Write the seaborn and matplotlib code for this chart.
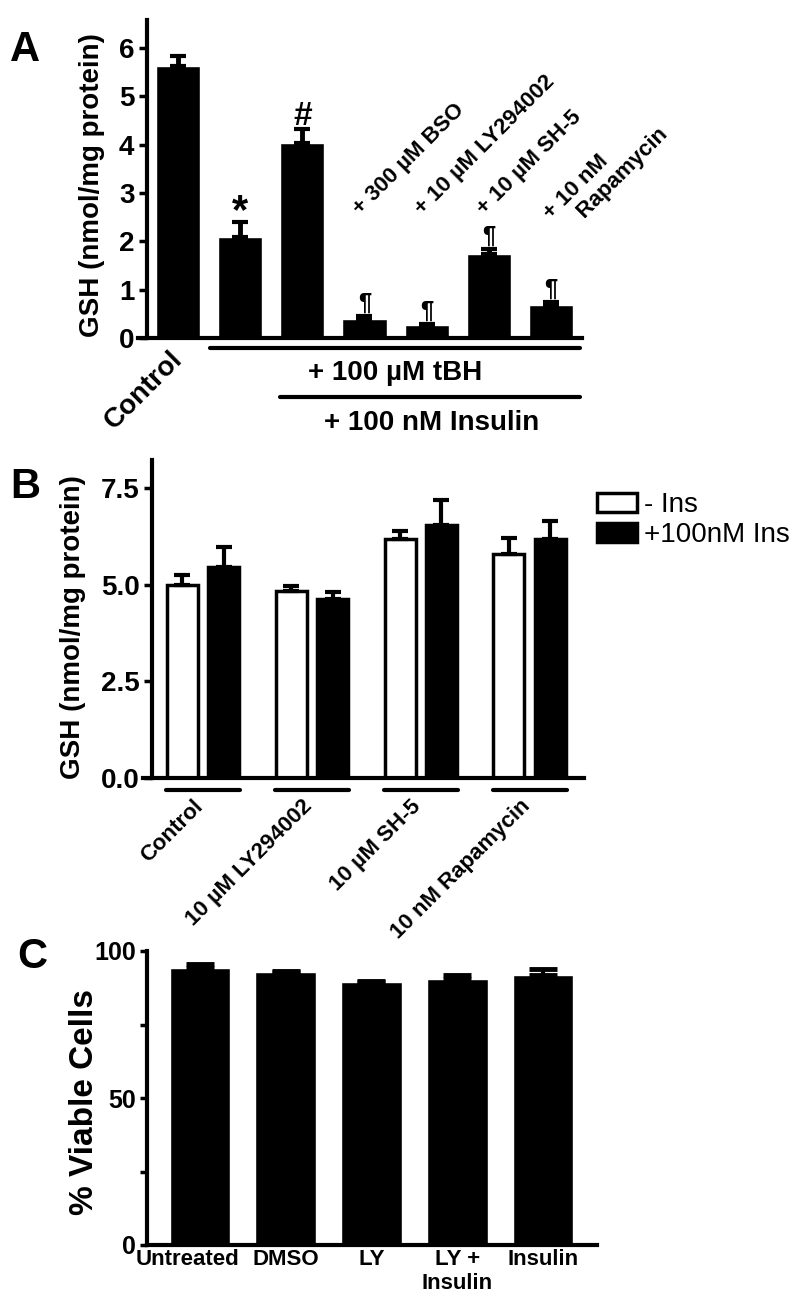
import numpy as np
import pandas as pd
import matplotlib
matplotlib.use('Agg')
import matplotlib.pyplot as plt
import matplotlib.transforms as mtrans
import seaborn as sns

# panel A: GSH after tBH / insulin / inhibitors
a_groups = ['Control', 'tBH', 'tBH + Insulin', '+ 300 µM BSO', '+ 10 µM LY294002',
            '+ 10 µM SH-5', '+ 10 nM\n    Rapamycin']
a_gsh = [5.62, 2.09, 4.04, 0.39, 0.27, 1.74, 0.68]
a_sem = [0.22, 0.31, 0.29, 0.07, 0.02, 0.10, 0.07]
a_marks = ['', '*', '#', '¶', '¶', '¶', '¶']

# panel B: GSH with / without insulin
b_groups = ['Control', '10 µM LY294002', '10 µM SH-5', '10 nM Rapamycin']
b_series = ['- Ins', '+100nM Ins']
b_no_ins = [4.99, 4.83, 6.18, 5.79]
b_no_ins_sem = [0.26, 0.13, 0.20, 0.41]
b_ins = [5.45, 4.63, 6.54, 6.18]
b_ins_sem = [0.52, 0.18, 0.64, 0.46]

# panel C: viability
c_groups = ['Untreated', 'DMSO', 'LY', 'LY +\nInsulin', 'Insulin']
c_viable = [94.2, 92.9, 89.5, 90.5, 91.8]
c_sem = [1.4, 0.3, 0.3, 1.3, 2.1]

sns.set_theme(style='ticks')
plt.rcParams['font.family'] = ['Liberation Sans', 'DejaVu Sans']
plt.rcParams['font.weight'] = 'bold'
plt.rcParams['axes.labelweight'] = 'bold'
plt.rcParams['axes.linewidth'] = 3
plt.rcParams['text.color'] = 'black'
plt.rcParams['axes.labelcolor'] = 'black'
plt.rcParams['xtick.color'] = 'black'
plt.rcParams['ytick.color'] = 'black'
plt.rcParams['xtick.labelcolor'] = 'black'
plt.rcParams['ytick.labelcolor'] = 'black'

W, H = 800, 1313
fig = plt.figure(figsize=(8, 13.13), dpi=100)


def box(l, t, r, b):
    return [l / W, 1 - b / H, (r - l) / W, (b - t) / H]


def style_axes(ax):
    sns.despine(ax=ax)
    for s in ['left', 'bottom']:
        ax.spines[s].set_linewidth(3)
        ax.spines[s].set_color('black')
    ax.tick_params(axis='y', length=6, width=2.5, labelsize=20, pad=3)
    ax.tick_params(axis='x', length=0)
    ax.set_xlabel('')


def shift_label(lab, dx, dy):
    # nudge a tick label by some pixels
    off = mtrans.ScaledTranslation(dx / 100, dy / 100, fig.dpi_scale_trans)
    lab.set_transform(lab.get_transform() + off)


#draw panel A
ax = fig.add_axes(box(138, 20, 582, 338))
n = len(a_groups)
sns.barplot(x=a_groups, y=a_gsh, color='black', width=0.71, errorbar=None, ax=ax)
ax.errorbar(range(n), a_gsh, yerr=[np.zeros(n), a_sem], fmt='none', ecolor='black',
            elinewidth=3.5, capsize=6, capthick=3)
style_axes(ax)
ax.set_xlim(-0.643, 6.5)
ax.spines['left'].set_position(('data', -0.5))
ax.set_ylim(0, 6.58)
ax.set_yticks(range(7))
ax.set_xticks(range(n))
ax.set_xticklabels([a_groups[0]] + [''] * (n - 1), rotation=45, ha='right', va='top',
                   rotation_mode='anchor', fontsize=20)
ax.tick_params(axis='x', pad=6)
for lab in ax.get_xticklabels():
    shift_label(lab, -8, 0)
ax.set_ylabel('GSH (nmol/mg protein)', fontsize=20)
ax.yaxis.set_label_coords(105 / W, 1 - 185 / H, transform=fig.transFigure)

mark_size = {'*': 30, '#': 24, '¶': 17}
mark_off = {'*': -7, '#': -2, '¶': 1}
for i, m in enumerate(a_marks):
    if m:
        ax.annotate(m, (i, a_gsh[i] + a_sem[i]), xytext=(0, mark_off[m]),
                    textcoords='offset points', ha='center', va='bottom',
                    fontsize=mark_size[m])
fs = 16
for i in range(3, n):
    k = a_groups[i].count('\n') * 1.2 * fs * 0.707
    ax.annotate(a_groups[i], (i - 0.07, 2.53), xytext=(k, -k), textcoords='offset points',
                rotation=45, rotation_mode='anchor', ha='left', va='baseline', fontsize=fs)

ax.plot([0.52, 6.47], [-0.21, -0.21], color='black', lw=3, clip_on=False)
ax.plot([1.64, 6.47], [-1.22, -1.22], color='black', lw=3, clip_on=False)
ax.text(3.49, -0.72, '+ 100 µM tBH', ha='center', va='center', fontsize=20)
ax.text(4.08, -1.76, '+ 100 nM Insulin', ha='center', va='center', fontsize=20)

#draw panel B
ax = fig.add_axes(box(143, 460, 584, 778))
df_b = pd.DataFrame({
    'group': b_groups * 2,
    'series': [b_series[0]] * len(b_groups) + [b_series[1]] * len(b_groups),
    'gsh': b_no_ins + b_ins,
})
sns.barplot(data=df_b, x='group', y='gsh', hue='series', palette=['white', 'black'],
            edgecolor='black', linewidth=2.5, width=0.76, gap=0.25, errorbar=None, ax=ax)
bars = sorted([p for p in ax.patches if p.get_height() > 0], key=lambda p: p.get_x())
xs = [p.get_x() + p.get_width() / 2 for p in bars]
ys = [p.get_height() for p in bars]
sems = [v for pair in zip(b_no_ins_sem, b_ins_sem) for v in pair]
ax.errorbar(xs, ys, yerr=[np.zeros(len(xs)), sems], fmt='none', ecolor='black',
            elinewidth=3, capsize=5.5, capthick=3)
style_axes(ax)
ax.set_xlim(-0.552, 3.5)
ax.spines['left'].set_position(('data', -0.469))
ax.set_ylim(0, 8.22)
ax.set_yticks([0, 2.5, 5, 7.5])
ax.set_yticklabels(['0.0', '2.5', '5.0', '7.5'])
ax.set_xticks(range(len(b_groups)))
ax.set_xticklabels(b_groups, rotation=45, ha='right', va='top', rotation_mode='anchor',
                   fontsize=16)
ax.tick_params(axis='x', pad=15)
for lab in ax.get_xticklabels():
    shift_label(lab, -10, 3)
for i in range(len(b_groups)):
    ax.plot([i - 0.34, i + 0.34], [-0.31, -0.31], color='black', lw=3, clip_on=False)
ax.set_ylabel('GSH (nmol/mg protein)', fontsize=20)
ax.yaxis.set_label_coords(86 / W, 1 - 627 / H, transform=fig.transFigure)
sns.move_legend(ax, 'upper left', bbox_to_anchor=(597 / W, 1 - 492 / H),
                bbox_transform=fig.transFigure, frameon=False, title=None,
                prop={'size': 20, 'weight': 'normal'}, handlelength=1.45,
                handleheight=0.7, handletextpad=0.25, labelspacing=0.15,
                borderpad=0, borderaxespad=0)

#draw panel C
ax = fig.add_axes(box(147, 951, 597, 1245))
m = len(c_groups)
sns.barplot(x=c_groups, y=c_viable, color='black', width=0.71, errorbar=None, ax=ax)
ax.errorbar(range(m), c_viable, yerr=[np.zeros(m), c_sem], fmt='none', ecolor='black',
            elinewidth=3, capsize=10, capthick=3.5)
style_axes(ax)
ax.set_xlim(-0.618, 4.63)
ax.set_ylim(0, 100)
ax.set_yticks([0, 50, 100])
ax.set_yticks([25, 75], minor=True)
ax.tick_params(axis='y', which='both', length=5, width=2.5, labelsize=18)
ax.tick_params(axis='x', labelsize=16, pad=3)
shift_label(ax.get_xticklabels()[0], -12, 0)
ax.set_ylabel('% Viable Cells', fontsize=24)
ax.yaxis.set_label_coords(100 / W, 1 - 1102 / H, transform=fig.transFigure)

# panel letters
for letter, (x, y) in zip('ABC', [(25, 50), (25, 487), (32, 957)]):
    fig.text(x / W, 1 - y / H, letter, fontsize=30, fontweight='bold', ha='center', va='center')

plt.savefig('out.png', dpi=100)
